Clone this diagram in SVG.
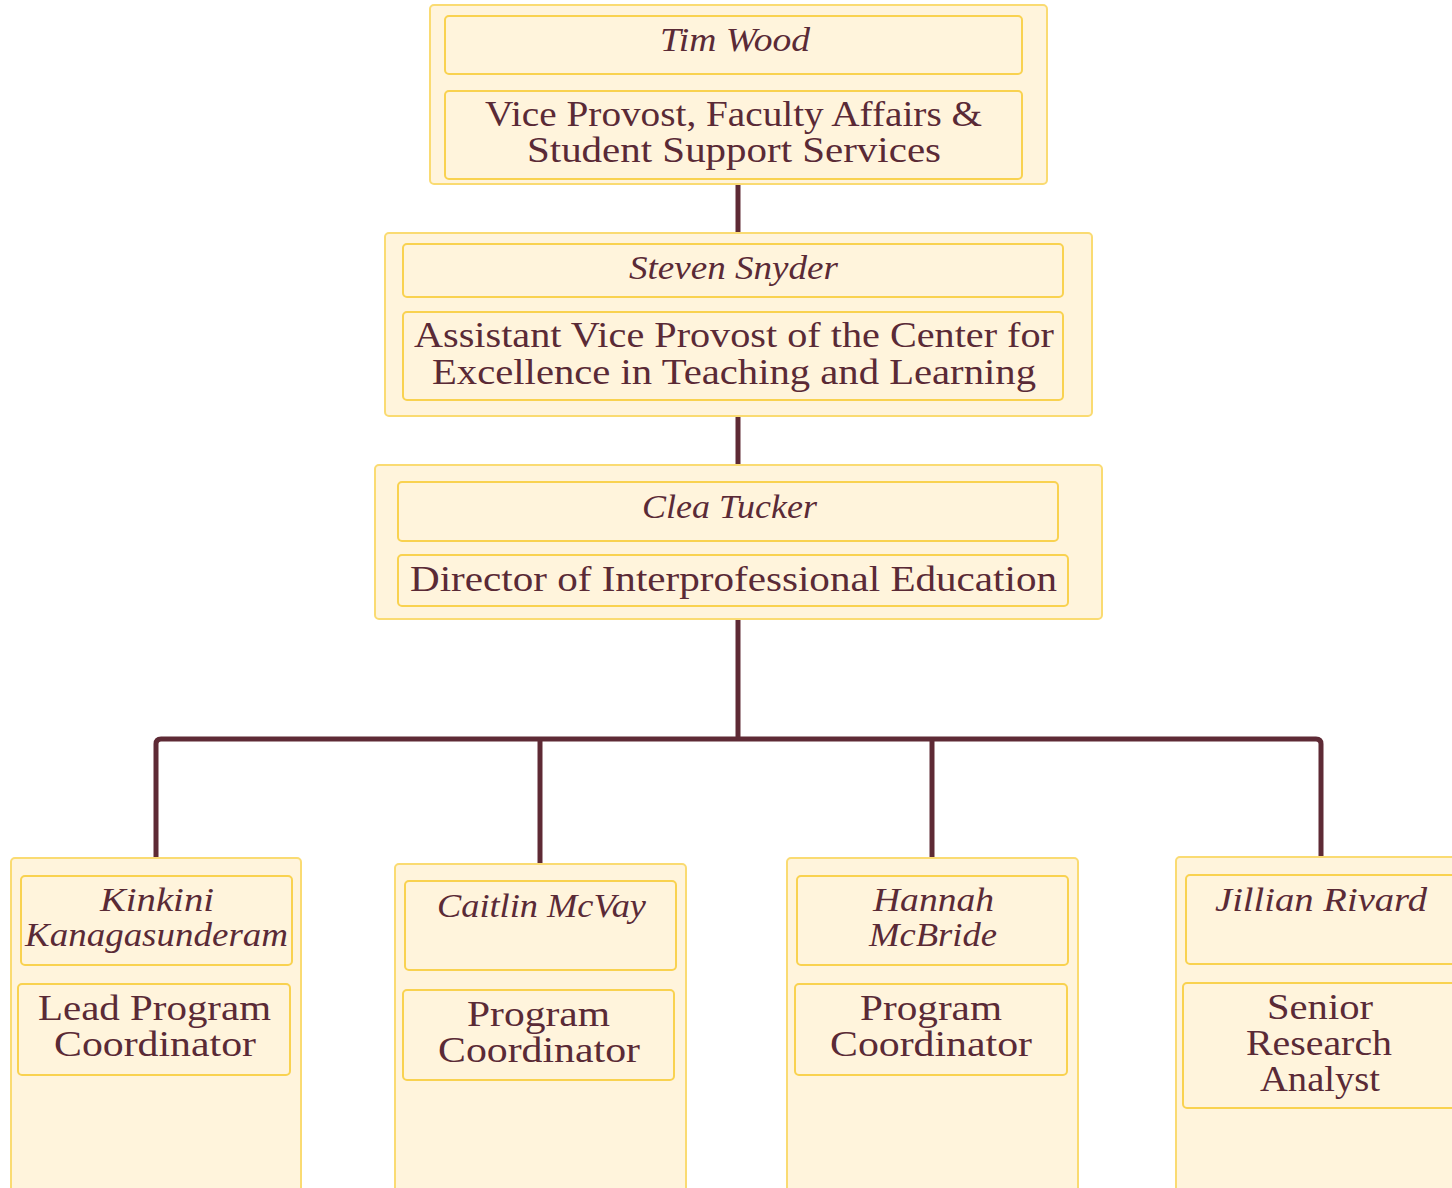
<svg xmlns="http://www.w3.org/2000/svg" width="1452" height="1188" viewBox="0 0 1452 1188">
<style>
.outer{fill:#fff4dc;stroke:#fadb72;stroke-width:2}
.inner{fill:#fff4dc;stroke:#f9d250;stroke-width:2}
.nm{font-family:"Liberation Serif","Times New Roman",serif;font-style:italic;font-size:34px;fill:#5a2a36;text-anchor:middle}
.tt{font-family:"Liberation Serif","Times New Roman",serif;font-size:35px;fill:#5a2a36;text-anchor:middle}
.con{fill:none;stroke:#5e2a35;stroke-width:5;stroke-linejoin:round}
</style>
<rect width="1452" height="1188" fill="#ffffff"/>
<g id="connectors">
<path class="con" d="M738 184 V233"/>
<path class="con" d="M738 416 V465"/>
<path class="con" d="M738 619 V739"/>
<path class="con" d="M156 858 V744 Q156 739 161 739 H1316 Q1321 739 1321 744 V858"/>
<path class="con" d="M540 739 V864"/>
<path class="con" d="M932 739 V858"/>
</g>
<g id="tim-wood">
<rect class="outer" x="430" y="5" width="617" height="179" rx="4"/>
<rect class="inner" x="445" y="16" width="577" height="58" rx="4"/>
<rect class="inner" x="445" y="91" width="577" height="88" rx="4"/>
<text class="nm" x="735" y="51" textLength="150" lengthAdjust="spacingAndGlyphs">Tim Wood</text>
<text class="tt" x="733.5" y="126" textLength="497" lengthAdjust="spacingAndGlyphs">Vice Provost, Faculty Affairs &amp;</text>
<text class="tt" x="734" y="162" textLength="414" lengthAdjust="spacingAndGlyphs">Student Support Services</text>
</g>
<g id="steven-snyder">
<rect class="outer" x="385" y="233" width="707" height="183" rx="4"/>
<rect class="inner" x="403" y="244" width="660" height="53" rx="4"/>
<rect class="inner" x="403" y="312" width="660" height="88" rx="4"/>
<text class="nm" x="733.5" y="279" textLength="209" lengthAdjust="spacingAndGlyphs">Steven Snyder</text>
<text class="tt" x="734" y="347" textLength="640" lengthAdjust="spacingAndGlyphs">Assistant Vice Provost of the Center for</text>
<text class="tt" x="734" y="384" textLength="604" lengthAdjust="spacingAndGlyphs">Excellence in Teaching and Learning</text>
</g>
<g id="clea-tucker">
<rect class="outer" x="375" y="465" width="727" height="154" rx="4"/>
<rect class="inner" x="398" y="482" width="660" height="59" rx="4"/>
<rect class="inner" x="398" y="555" width="670" height="51" rx="4"/>
<text class="nm" x="729.5" y="518" textLength="175" lengthAdjust="spacingAndGlyphs">Clea Tucker</text>
<text class="tt" x="733.5" y="591" textLength="647" lengthAdjust="spacingAndGlyphs">Director of Interprofessional Education</text>
</g>
<g id="kinkini-kanagasunderam">
<rect class="outer" x="11" y="858" width="290" height="345" rx="4"/>
<rect class="inner" x="21" y="876" width="271" height="89" rx="4"/>
<rect class="inner" x="18" y="984" width="272" height="91" rx="4"/>
<text class="nm" x="157" y="911" textLength="114" lengthAdjust="spacingAndGlyphs">Kinkini</text>
<text class="nm" x="156.5" y="946" textLength="263" lengthAdjust="spacingAndGlyphs">Kanagasunderam</text>
<text class="tt" x="154.5" y="1020" textLength="233" lengthAdjust="spacingAndGlyphs">Lead Program</text>
<text class="tt" x="155" y="1056" textLength="202" lengthAdjust="spacingAndGlyphs">Coordinator</text>
</g>
<g id="caitlin-mcvay">
<rect class="outer" x="395" y="864" width="291" height="340" rx="4"/>
<rect class="inner" x="405" y="881" width="271" height="89" rx="4"/>
<rect class="inner" x="403" y="990" width="271" height="90" rx="4"/>
<text class="nm" x="541.5" y="917" textLength="209" lengthAdjust="spacingAndGlyphs">Caitlin McVay</text>
<text class="tt" x="538.5" y="1026" textLength="143" lengthAdjust="spacingAndGlyphs">Program</text>
<text class="tt" x="539" y="1062" textLength="202" lengthAdjust="spacingAndGlyphs">Coordinator</text>
</g>
<g id="hannah-mcbride">
<rect class="outer" x="787" y="858" width="291" height="345" rx="4"/>
<rect class="inner" x="797" y="876" width="271" height="89" rx="4"/>
<rect class="inner" x="795" y="984" width="272" height="91" rx="4"/>
<text class="nm" x="933.5" y="911" textLength="121" lengthAdjust="spacingAndGlyphs">Hannah</text>
<text class="nm" x="933" y="946" textLength="128" lengthAdjust="spacingAndGlyphs">McBride</text>
<text class="tt" x="931" y="1020" textLength="142" lengthAdjust="spacingAndGlyphs">Program</text>
<text class="tt" x="931" y="1056" textLength="202" lengthAdjust="spacingAndGlyphs">Coordinator</text>
</g>
<g id="jillian-rivard">
<rect class="outer" x="1176" y="857" width="300" height="346" rx="4"/>
<rect class="inner" x="1186" y="875" width="290" height="89" rx="4"/>
<rect class="inner" x="1183" y="983" width="290" height="125" rx="4"/>
<text class="nm" x="1321" y="911" textLength="212" lengthAdjust="spacingAndGlyphs">Jillian Rivard</text>
<text class="tt" x="1320" y="1019" textLength="106" lengthAdjust="spacingAndGlyphs">Senior</text>
<text class="tt" x="1319" y="1055" textLength="146" lengthAdjust="spacingAndGlyphs">Research</text>
<text class="tt" x="1320" y="1091" textLength="120" lengthAdjust="spacingAndGlyphs">Analyst</text>
</g>
</svg>
